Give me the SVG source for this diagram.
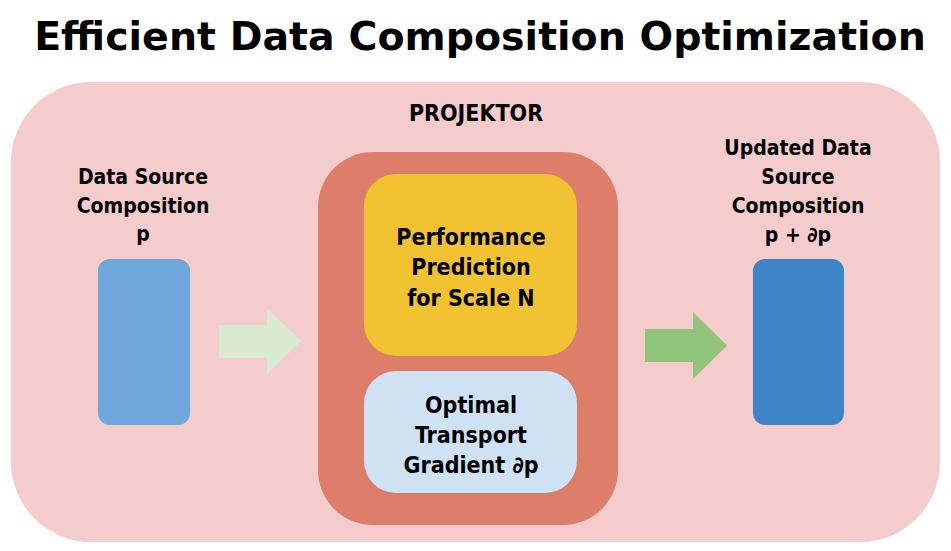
<svg xmlns="http://www.w3.org/2000/svg" width="951" height="551" viewBox="0 0 951 551">
<style>
.title{font-family:"DejaVu Sans",sans-serif;font-weight:bold;font-size:39.5px;fill:#000;text-anchor:middle}
.lbl{font-family:"DejaVu Sans Condensed","DejaVu Sans",sans-serif;font-stretch:condensed;font-weight:bold;fill:#000;text-anchor:middle}
.s21{font-size:21px}
.s23{font-size:23px}
</style>
<rect width="951" height="551" fill="#ffffff"/>
<text class="title" x="480" y="50">Efficient Data Composition Optimization</text>
<g id="projektor">
<rect x="11" y="82" width="929" height="460" rx="80" ry="80" fill="#f4cccc"/>
<text class="lbl s23" x="476" y="121">PROJEKTOR</text>
</g>
<g id="core">
<rect x="318" y="152" width="300" height="373" rx="55" ry="55" fill="#df7d6b"/>
</g>
<g id="performance">
<rect x="364" y="174" width="213" height="182" rx="32" ry="32" fill="#f1c232"/>
<text class="lbl s23" x="471" y="245">Performance</text>
<text class="lbl s23" x="471" y="275">Prediction</text>
<text class="lbl s23" x="471" y="306">for Scale N</text>
</g>
<g id="transport">
<rect x="364" y="371" width="213" height="122" rx="32" ry="32" fill="#cfe2f3"/>
<text class="lbl s23" x="471" y="413">Optimal</text>
<text class="lbl s23" x="471" y="443">Transport</text>
<text class="lbl s23" x="471" y="473">Gradient ∂p</text>
</g>
<g id="source">
<text class="lbl s21" x="143" y="184">Data Source</text>
<text class="lbl s21" x="143" y="213">Composition</text>
<text class="lbl s21" x="143" y="241">p</text>
<rect x="98" y="259" width="92" height="166" rx="12" ry="12" fill="#6fa8dc"/>
</g>
<g id="updated">
<text class="lbl s21" x="798" y="155">Updated Data</text>
<text class="lbl s21" x="798" y="184">Source</text>
<text class="lbl s21" x="798" y="213">Composition</text>
<text class="lbl s21" x="798" y="242">p + ∂p</text>
<rect x="753" y="259" width="91" height="166" rx="12" ry="12" fill="#3d85c6"/>
</g>
<g id="connectors">
<polygon points="219,325 267,325 267,308 301,341 267,374 267,358 219,358" fill="#d9ead3"/>
<polygon points="645,329 693,329 693,312 727,345.5 693,379 693,362 645,362" fill="#93c47d"/>
</g>
</svg>
